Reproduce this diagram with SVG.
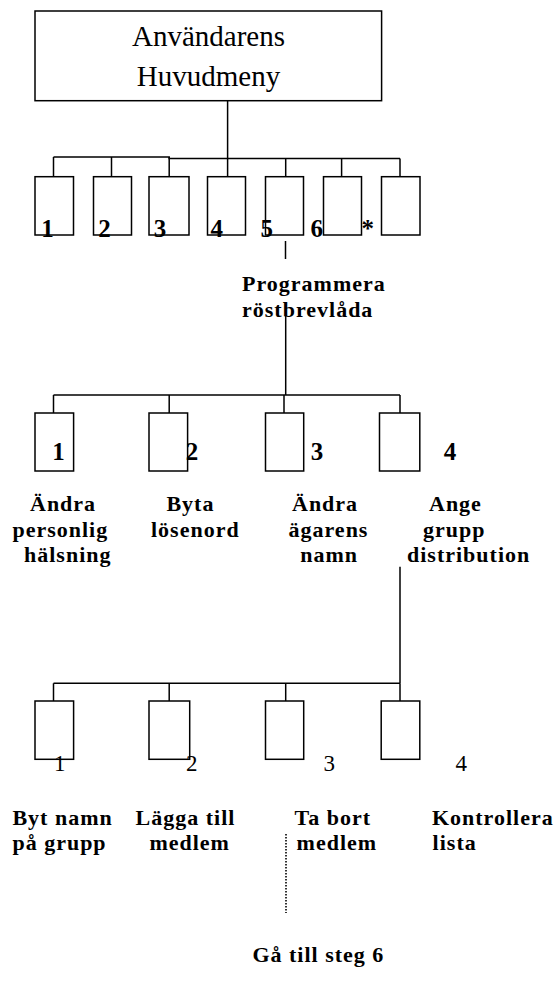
<svg xmlns="http://www.w3.org/2000/svg" width="555" height="984" viewBox="0 0 555 984">
<style>
.bx{fill:#fff;stroke:#000;stroke-width:1.5}
.ln{fill:none;stroke:#000;stroke-width:1.5}
.dot{fill:none;stroke:#000;stroke-width:1.6;stroke-dasharray:1.4 1.6}
.t{font-family:"Liberation Serif","Times New Roman",serif;fill:#000}
.title{font-size:29px}
.lb{font-size:22px;font-weight:bold;letter-spacing:1px}
.nb{font-size:25px;font-weight:bold}
.nr{font-size:23px}
</style>
<rect width="555" height="984" fill="#fff"/>
<g id="connectors">
<line class="ln" x1="227.6" y1="100.7" x2="227.6" y2="157"/>
<polyline class="ln" points="53.5,157 169.2,157 169.2,158.5 400,158.5"/>
<line class="ln" x1="53.5" y1="157" x2="53.5" y2="176.7"/>
<line class="ln" x1="111.5" y1="157" x2="111.5" y2="176.7"/>
<line class="ln" x1="169.2" y1="157" x2="169.2" y2="176.7"/>
<line class="ln" x1="227.6" y1="157" x2="227.6" y2="176.7"/>
<line class="ln" x1="285.7" y1="158.5" x2="285.7" y2="176.7"/>
<line class="ln" x1="341.6" y1="158.5" x2="341.6" y2="176.7"/>
<line class="ln" x1="400" y1="158.5" x2="400" y2="176.7"/>
<line class="ln" x1="285.5" y1="241" x2="285.5" y2="259"/>
<line class="ln" x1="285.7" y1="315" x2="285.7" y2="395"/>
<line class="ln" x1="53.5" y1="395" x2="400" y2="395"/>
<line class="ln" x1="53.5" y1="395" x2="53.5" y2="413"/>
<line class="ln" x1="169.2" y1="395" x2="169.2" y2="413"/>
<line class="ln" x1="284" y1="395" x2="284" y2="413"/>
<line class="ln" x1="400" y1="395" x2="400" y2="413"/>
<line class="ln" x1="400" y1="566.7" x2="400" y2="683.3"/>
<line class="ln" x1="53.5" y1="683.3" x2="400" y2="683.3"/>
<line class="ln" x1="53.5" y1="683.3" x2="53.5" y2="701"/>
<line class="ln" x1="169.2" y1="683.3" x2="169.2" y2="701"/>
<line class="ln" x1="285.7" y1="683.3" x2="285.7" y2="701"/>
<line class="ln" x1="400" y1="683.3" x2="400" y2="701"/>
<line class="dot" x1="286" y1="834" x2="286" y2="913"/>
</g>
<g id="main-menu">
<rect class="bx" x="35" y="11" width="346.6" height="89.7"/>
<text class="t title" x="208.5" y="45.7" text-anchor="middle">Användarens</text>
<text class="t title" x="208.5" y="86" text-anchor="middle">Huvudmeny</text>
</g>
<g id="m1"><rect class="bx" x="35" y="176.7" width="38.5" height="58.3"/><text class="t nb" x="41.3" y="237">1</text></g>
<g id="m2"><rect class="bx" x="93.5" y="176.7" width="38" height="58.3"/><text class="t nb" x="98.2" y="237">2</text></g>
<g id="m3"><rect class="bx" x="149" y="176.7" width="40" height="58.3"/><text class="t nb" x="153.8" y="237">3</text></g>
<g id="m4"><rect class="bx" x="207.5" y="176.7" width="38" height="58.3"/><text class="t nb" x="210.6" y="237">4</text></g>
<g id="m5"><rect class="bx" x="265.5" y="176.7" width="38" height="58.3"/><text class="t nb" x="260.6" y="237">5</text></g>
<g id="m6"><rect class="bx" x="323.5" y="176.7" width="38" height="58.3"/><text class="t nb" x="310.6" y="237">6</text></g>
<g id="m7"><rect class="bx" x="381.5" y="176.7" width="38.5" height="58.3"/><text class="t nb" x="361.5" y="237">*</text></g>
<g id="programmera">
<text class="t lb" x="242" y="290.7">Programmera</text>
<text class="t lb" x="242" y="316.7">röstbrevlåda</text>
</g>
<g id="p1"><rect class="bx" x="35" y="413" width="38.6" height="58"/><text class="t nb" x="52.3" y="460">1</text>
<text class="t lb" x="30" y="510.7">Ändra</text><text class="t lb" x="12.4" y="536.7">personlig</text><text class="t lb" x="24" y="562">hälsning</text></g>
<g id="p2"><rect class="bx" x="149" y="413" width="38.6" height="58"/><text class="t nb" x="185.8" y="460">2</text>
<text class="t lb" x="166.4" y="510.7">Byta</text><text class="t lb" x="151" y="536.7">lösenord</text></g>
<g id="p3"><rect class="bx" x="265.5" y="413" width="38.2" height="58"/><text class="t nb" x="310.8" y="460">3</text>
<text class="t lb" x="292" y="510.7">Ändra</text><text class="t lb" x="288.5" y="536.7">ägarens</text><text class="t lb" x="300.2" y="562">namn</text></g>
<g id="p4"><rect class="bx" x="379.5" y="413" width="40.3" height="58"/><text class="t nb" x="443.8" y="460">4</text>
<text class="t lb" x="429" y="510.7">Ange</text><text class="t lb" x="423" y="536.7">grupp</text><text class="t lb" x="407" y="562">distribution</text></g>
<g id="g1"><rect class="bx" x="35" y="701" width="38.6" height="58.3"/><text class="t nr" x="54" y="771">1</text>
<text class="t lb" x="12.4" y="825">Byt namn</text><text class="t lb" x="12.4" y="850">på grupp</text></g>
<g id="g2"><rect class="bx" x="149" y="701" width="40.7" height="58.3"/><text class="t nr" x="186" y="771">2</text>
<text class="t lb" x="135.6" y="825">Lägga till</text><text class="t lb" x="149.4" y="850">medlem</text></g>
<g id="g3"><rect class="bx" x="265.5" y="701" width="38.2" height="58.3"/><text class="t nr" x="323.5" y="771">3</text>
<text class="t lb" x="294.5" y="825">Ta bort</text><text class="t lb" x="296.6" y="850">medlem</text></g>
<g id="g4"><rect class="bx" x="381.2" y="701" width="38.6" height="58.3"/><text class="t nr" x="455.5" y="771">4</text>
<text class="t lb" x="431.9" y="825">Kontrollera</text><text class="t lb" x="432.6" y="850">lista</text></g>
<g id="goto"><text class="t lb" x="252.4" y="962">Gå till steg 6</text></g>
</svg>
